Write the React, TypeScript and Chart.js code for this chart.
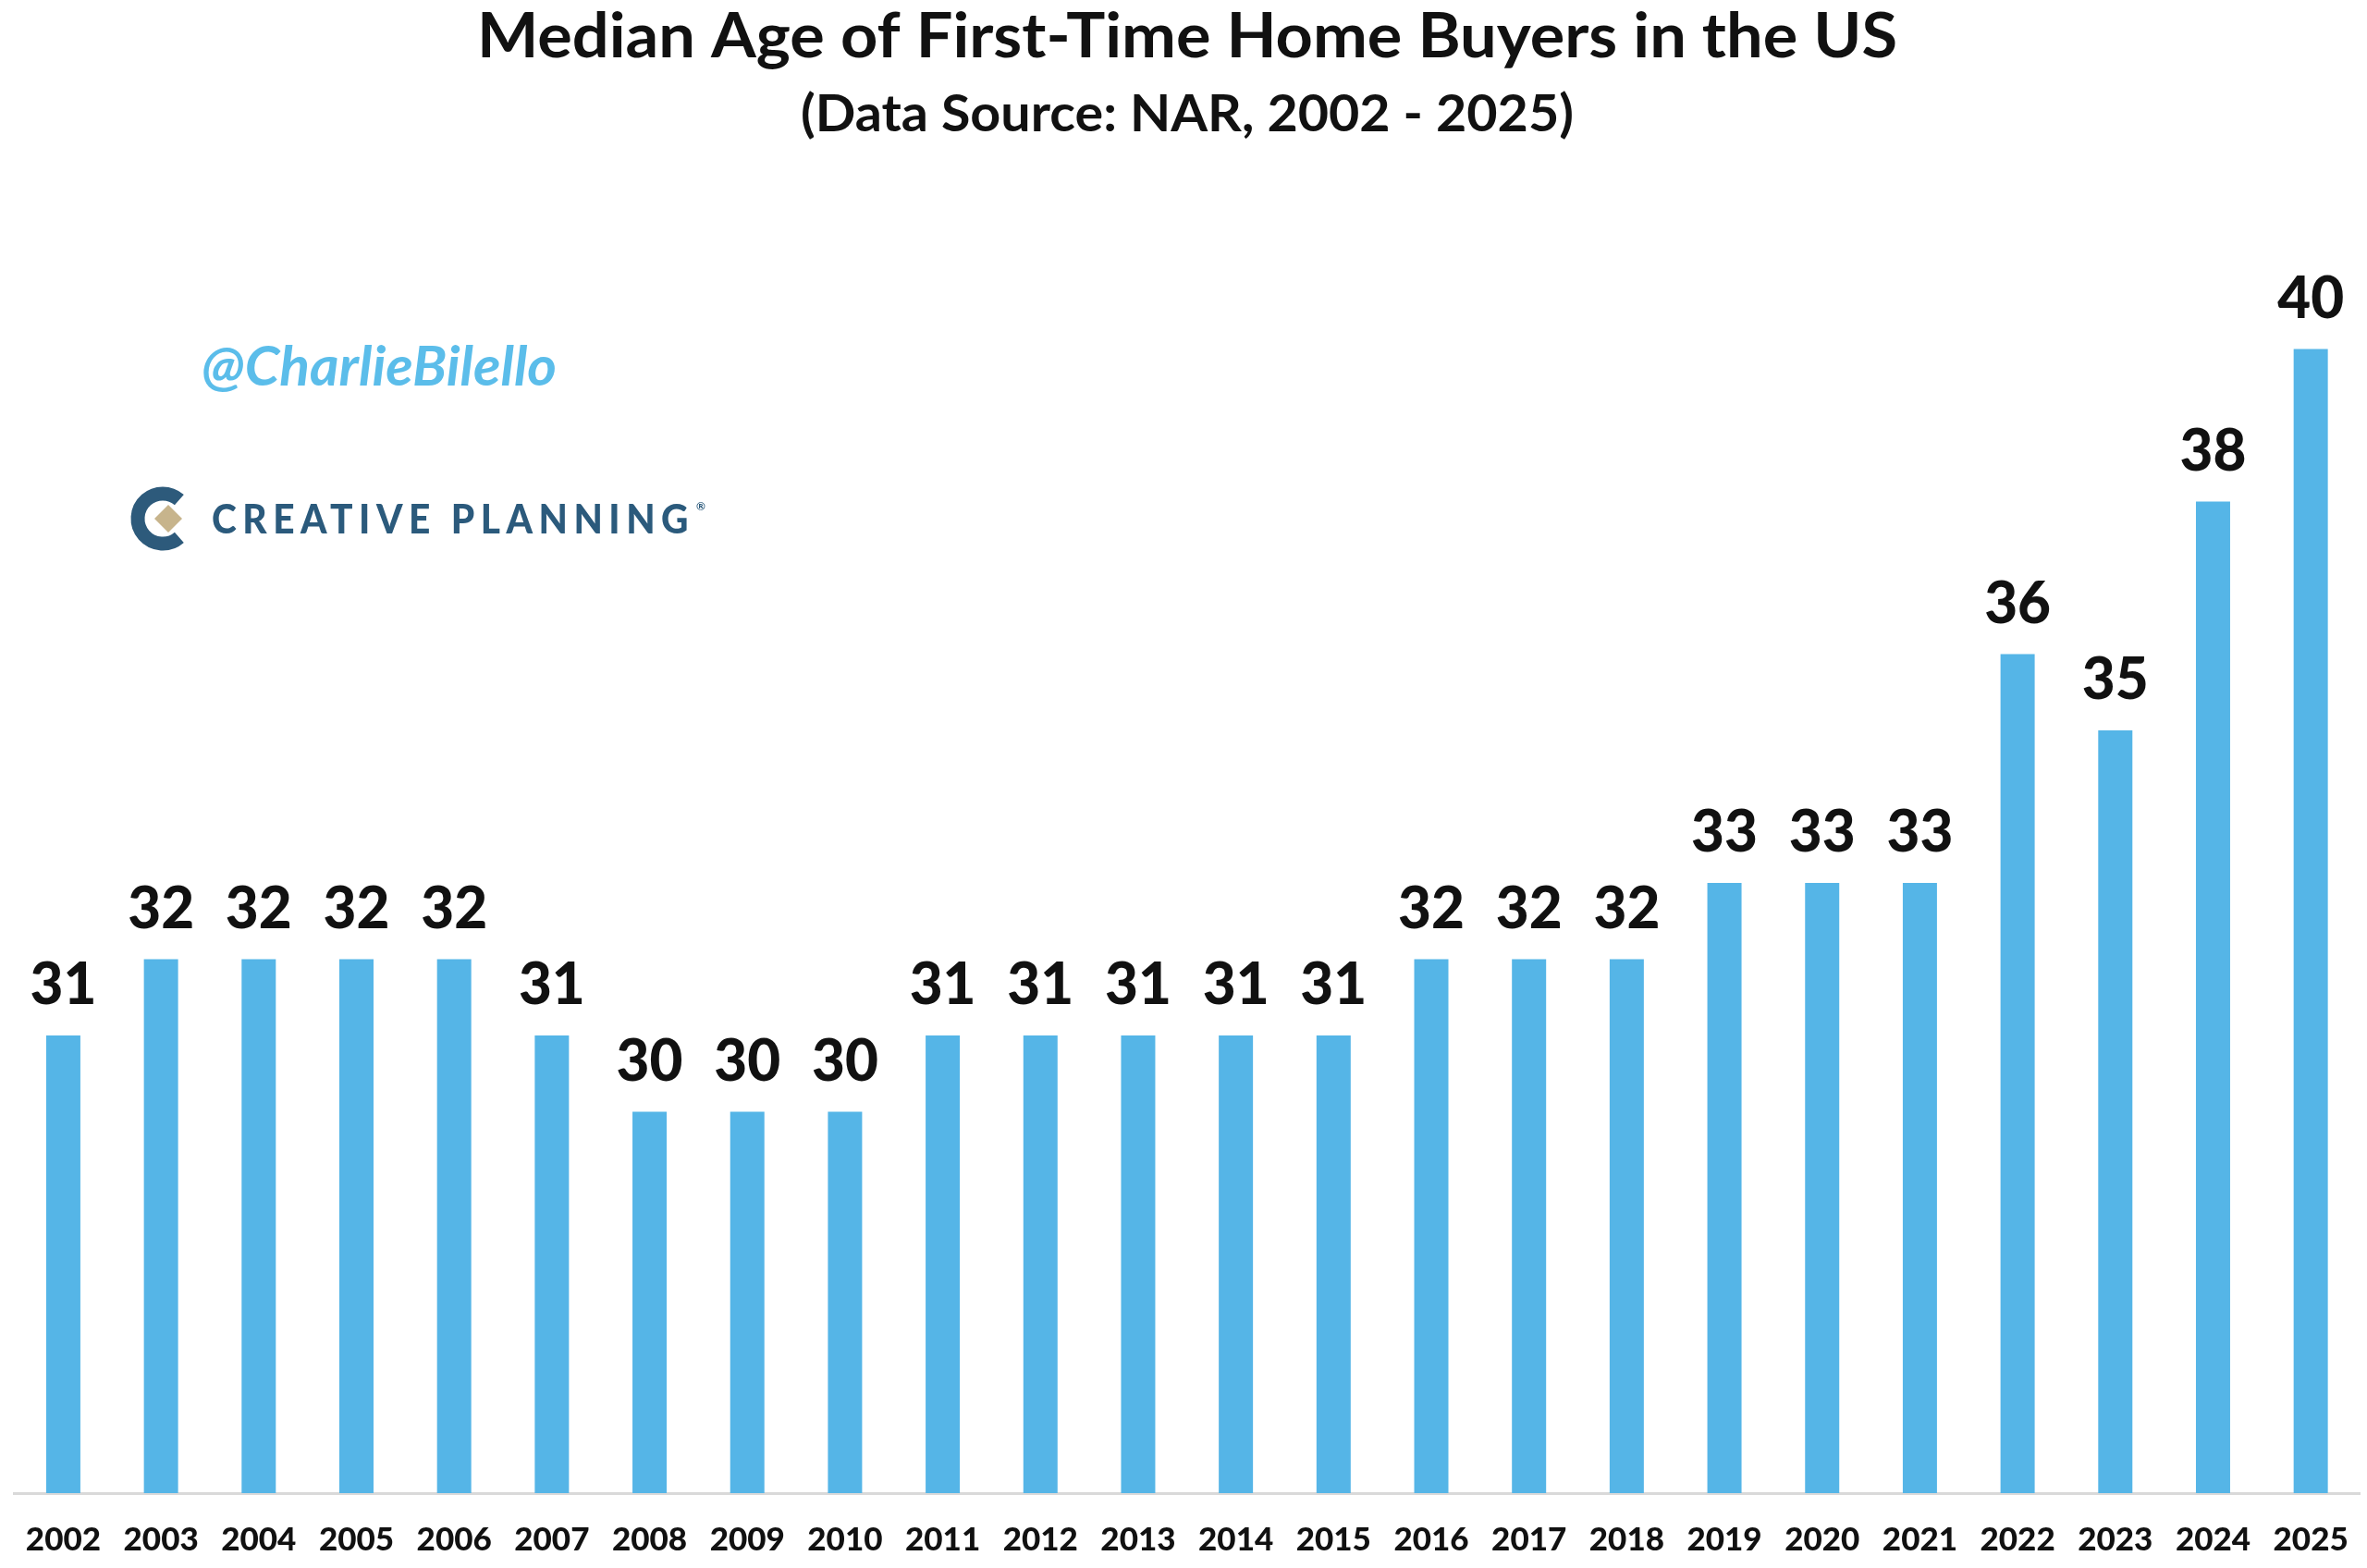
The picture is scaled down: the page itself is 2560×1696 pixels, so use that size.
import { useEffect, useRef } from "react";
import { Chart, registerables } from "chart.js";

Chart.register(...registerables);

const years = [
  "2002", "2003", "2004", "2005", "2006", "2007", "2008", "2009", "2010", "2011", "2012", "2013",
  "2014", "2015", "2016", "2017", "2018", "2019", "2020", "2021", "2022", "2023", "2024", "2025",
];
const medianAge = [31, 32, 32, 32, 32, 31, 30, 30, 30, 31, 31, 31, 31, 31, 32, 32, 32, 33, 33, 33, 36, 35, 38, 40];
const titleText = "Median Age of First-Time Home Buyers in the US";
const subtitleText = "(Data Source: NAR, 2002 - 2025)";
const watermarkText = "@CharlieBilello";
const logoText = "CREATIVE PLANNING";

const BAR_COLOR = "#55b5e7";
const TEXT_COLOR = "#111111";

function drawFitted(ctx: CanvasRenderingContext2D, text: string, cx: number, baseline: number, width: number) {
  const w = ctx.measureText(text).width;
  ctx.save();
  ctx.translate(cx, baseline);
  ctx.scale(width / w, 1);
  ctx.textAlign = "center";
  ctx.textBaseline = "alphabetic";
  ctx.fillText(text, 0, 0);
  ctx.restore();
}

const overlayPlugin = {
  id: "overlay",
  afterDraw(chart: any) {
    const ctx: CanvasRenderingContext2D = chart.ctx;
    ctx.save();
    // title + subtitle
    ctx.fillStyle = TEXT_COLOR;
    ctx.font = "bold 66px Lato";
    drawFitted(ctx, titleText, 1284, 62, 1536);
    ctx.font = "bold 55px Lato";
    drawFitted(ctx, subtitleText, 1284, 142, 836);

    // watermark
    ctx.fillStyle = "#5bbdea";
    ctx.font = "italic bold 60px Lato";
    drawFitted(ctx, watermarkText, 218 + 192, 417, 384);

    // logo icon
    ctx.strokeStyle = "#2d5a7b";
    ctx.lineWidth = 15;
    ctx.beginPath();
    ctx.arc(176, 561, 27, Math.PI * 0.27, Math.PI * 1.73);
    ctx.stroke();
    ctx.fillStyle = "#c7b48c";
    ctx.beginPath();
    ctx.moveTo(182, 546);
    ctx.lineTo(197, 561);
    ctx.lineTo(182, 576);
    ctx.lineTo(167, 561);
    ctx.closePath();
    ctx.fill();

    // logo text
    ctx.fillStyle = "#2b5a7c";
    ctx.font = "900 44px Lato";
    (ctx as any).letterSpacing = "7px";
    drawFitted(ctx, logoText, 229 + 261, 577, 522);
    (ctx as any).letterSpacing = "0px";
    ctx.font = "bold 12px Lato";
    ctx.fillText("®", 753, 552);
    ctx.restore();
  },
  afterDatasetsDraw(chart: any) {
    const ctx: CanvasRenderingContext2D = chart.ctx;
    const meta = chart.getDatasetMeta(0);
    const data = chart.data.datasets[0].data as number[];
    ctx.save();
    ctx.fillStyle = TEXT_COLOR;
    ctx.font = "900 62px Lato";
    ctx.textAlign = "center";
    ctx.textBaseline = "alphabetic";
    meta.data.forEach((el: any, i: number) => {
      ctx.fillText(String(data[i]), el.x, el.y - 34);
    });
    ctx.restore();
  },
};

export default function App() {
  const ref = useRef<HTMLCanvasElement>(null);
  useEffect(() => {
    const chart = new Chart(ref.current!, {
      type: "bar",
      data: {
        labels: years,
        datasets: [
          {
            data: medianAge,
            backgroundColor: BAR_COLOR,
            borderWidth: 0,
            barPercentage: 0.35,
            categoryPercentage: 1.0,
          },
        ],
      },
      options: {
        responsive: false,
        animation: false,
        devicePixelRatio: 1,
        layout: { padding: { top: 212.5, left: 15.6, right: 8, bottom: 0 } },
        plugins: {
          legend: { display: false },
          tooltip: { enabled: false },
          title: { display: false },
        },
        scales: {
          x: {
            grid: { display: false, drawTicks: false },
            border: { display: true, color: "#d9d9d9", width: 3 },
            ticks: {
              color: TEXT_COLOR,
              font: { family: "Lato", size: 35, weight: "900" },
              padding: 30,
              maxRotation: 0,
              minRotation: 0,
              autoSkip: false,
            },
            afterFit: (s: any) => {
              s.height = 81;
              s.paddingLeft = 0;
              s.paddingRight = 0;
            },
          },
          y: { display: false, min: 25, max: 42 },
        },
      },
      plugins: [overlayPlugin],
    });
    return () => chart.destroy();
  }, []);
  return (
    <div style={{ position: "fixed", left: 0, top: 0, width: 2560, height: 1696, background: "#fff" }}>
      <canvas ref={ref} width={2560} height={1696} style={{ width: 2560, height: 1696, display: "block" }} />
    </div>
  );
}
